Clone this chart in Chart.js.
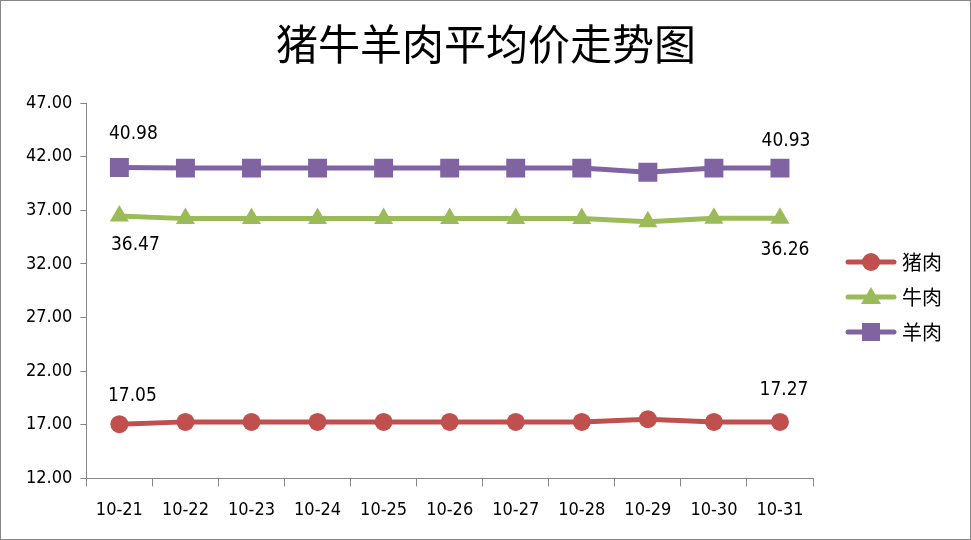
<!DOCTYPE html>
<html>
<head>
<meta charset="utf-8">
<script src="https://cdn.jsdelivr.net/npm/chart.js@4"></script>
<style>
  body { margin: 0; background: #fff; }
  canvas { display: block; }
</style>
</head>
<body>
<canvas id="chart" width="971" height="540"></canvas>
<script>
const chartTitle = '猪牛羊肉平均价走势图'
const dates = ['10-21', '10-22', '10-23', '10-24', '10-25', '10-26', '10-27', '10-28', '10-29', '10-30', '10-31']
const pork = [17.05, 17.27, 17.27, 17.27, 17.27, 17.27, 17.27, 17.27, 17.52, 17.27, 17.27]
const beef = [36.47, 36.22, 36.22, 36.22, 36.22, 36.22, 36.22, 36.22, 35.93, 36.26, 36.26]
const mutton = [40.98, 40.93, 40.93, 40.93, 40.93, 40.93, 40.93, 40.93, 40.55, 40.93, 40.93]
const yTicks = [12, 17, 22, 27, 32, 37, 42, 47]

const axisColor = '#868686'
const tickFont = '"DejaVu Sans Condensed", "Liberation Sans", sans-serif'
// first/last: pixel offset of the value label from its point
const series = [
  { label: '猪肉', data: pork, color: '#C0504D', style: 'circle', radius: 9, first: [13, -28], last: [4, -32] },
  { label: '牛肉', data: beef, color: '#9BBB59', style: 'triangle', radius: 11, first: [16, 29], last: [5, 32] },
  { label: '羊肉', data: mutton, color: '#8064A2', style: 'rect', radius: 13.4, first: [14, -34], last: [6, -27] }
]

// white background, outer frame and title
const frame = {
  id: 'frame',
  beforeDraw(chart) {
    const c = chart.ctx
    c.save()
    c.fillStyle = '#fff'
    c.fillRect(0, 0, chart.width, chart.height)
    c.strokeStyle = '#868686'
    c.lineWidth = 1
    c.strokeRect(0.5, 0.5, chart.width - 1, chart.height - 1)
    c.fillStyle = '#000'
    c.font = '42px "Noto Sans CJK SC", sans-serif'
    c.textAlign = 'center'
    c.textBaseline = 'middle'
    c.fillText(chartTitle, 486, 44)
    c.restore()
  }
}

// value labels on first and last point only
const endLabels = {
  id: 'endLabels',
  afterDatasetsDraw(chart) {
    const c = chart.ctx
    c.save()
    c.font = '19px ' + tickFont
    c.fillStyle = '#000'
    c.textAlign = 'center'
    c.textBaseline = 'middle'
    chart.data.datasets.forEach((ds, i) => {
      const meta = chart.getDatasetMeta(i)
      const last = meta.data.length - 1
      ;[[0, series[i].first], [last, series[i].last]].forEach(([idx, [dx, dy]]) => {
        const pt = meta.data[idx]
        c.fillText(ds.data[idx].toFixed(2), pt.x + dx, pt.y + dy)
      })
    })
    c.restore()
  }
}

// Excel-style legend: line with marker in the middle
const sideLegend = {
  id: 'sideLegend',
  afterDraw(chart) {
    const c = chart.ctx
    c.save()
    series.forEach((s, i) => {
      const y = 262 + i * 35
      c.strokeStyle = s.color
      c.lineWidth = 5
      c.lineCap = 'round'
      c.beginPath()
      c.moveTo(848, y)
      c.lineTo(894, y)
      c.stroke()
      c.fillStyle = s.color
      c.beginPath()
      if (s.style === 'circle') c.arc(871, y, 9, 0, Math.PI * 2)
      else if (s.style === 'triangle') { c.moveTo(871, y - 10); c.lineTo(881, y + 7); c.lineTo(861, y + 7); c.closePath() }
      else c.rect(862, y - 9, 18, 18)
      c.fill()
      c.fillStyle = '#000'
      c.font = '20px "Noto Sans CJK SC", sans-serif'
      c.textAlign = 'left'
      c.textBaseline = 'middle'
      c.fillText(s.label, 902, y)
    })
    c.restore()
  }
}

new Chart(document.getElementById('chart'), {
  type: 'line',
  data: {
    labels: dates,
    datasets: series.map(s => ({
      label: s.label,
      data: s.data,
      borderColor: s.color,
      backgroundColor: s.color,
      borderWidth: 5,
      pointStyle: s.style,
      pointRadius: s.radius,
      pointBorderWidth: 0,
      tension: 0
    }))
  },
  options: {
    responsive: false,
    animation: false,
    layout: { padding: { left: 18, right: 158, top: 103, bottom: 6 } },
    plugins: {
      legend: { display: false },
      tooltip: { enabled: false },
      title: { display: false }
    },
    scales: {
      x: {
        offset: true,
        grid: { offset: true, drawOnChartArea: false, color: axisColor, tickLength: 8 },
        border: { color: axisColor, width: 1 },
        ticks: { color: '#000', padding: 13, font: { family: tickFont, size: 18 }, maxRotation: 0 }
      },
      y: {
        min: 12,
        max: 47,
        afterBuildTicks: axis => { axis.ticks = yTicks.map(v => ({ value: v })) },
        grid: { drawOnChartArea: false, color: axisColor, tickLength: 6 },
        border: { color: axisColor, width: 1 },
        ticks: {
          color: '#000',
          padding: 8,
          font: { family: tickFont, size: 18 },
          callback: v => Number(v).toFixed(2)
        }
      }
    }
  },
  plugins: [frame, endLabels, sideLegend]
})
</script>
</body>
</html>
